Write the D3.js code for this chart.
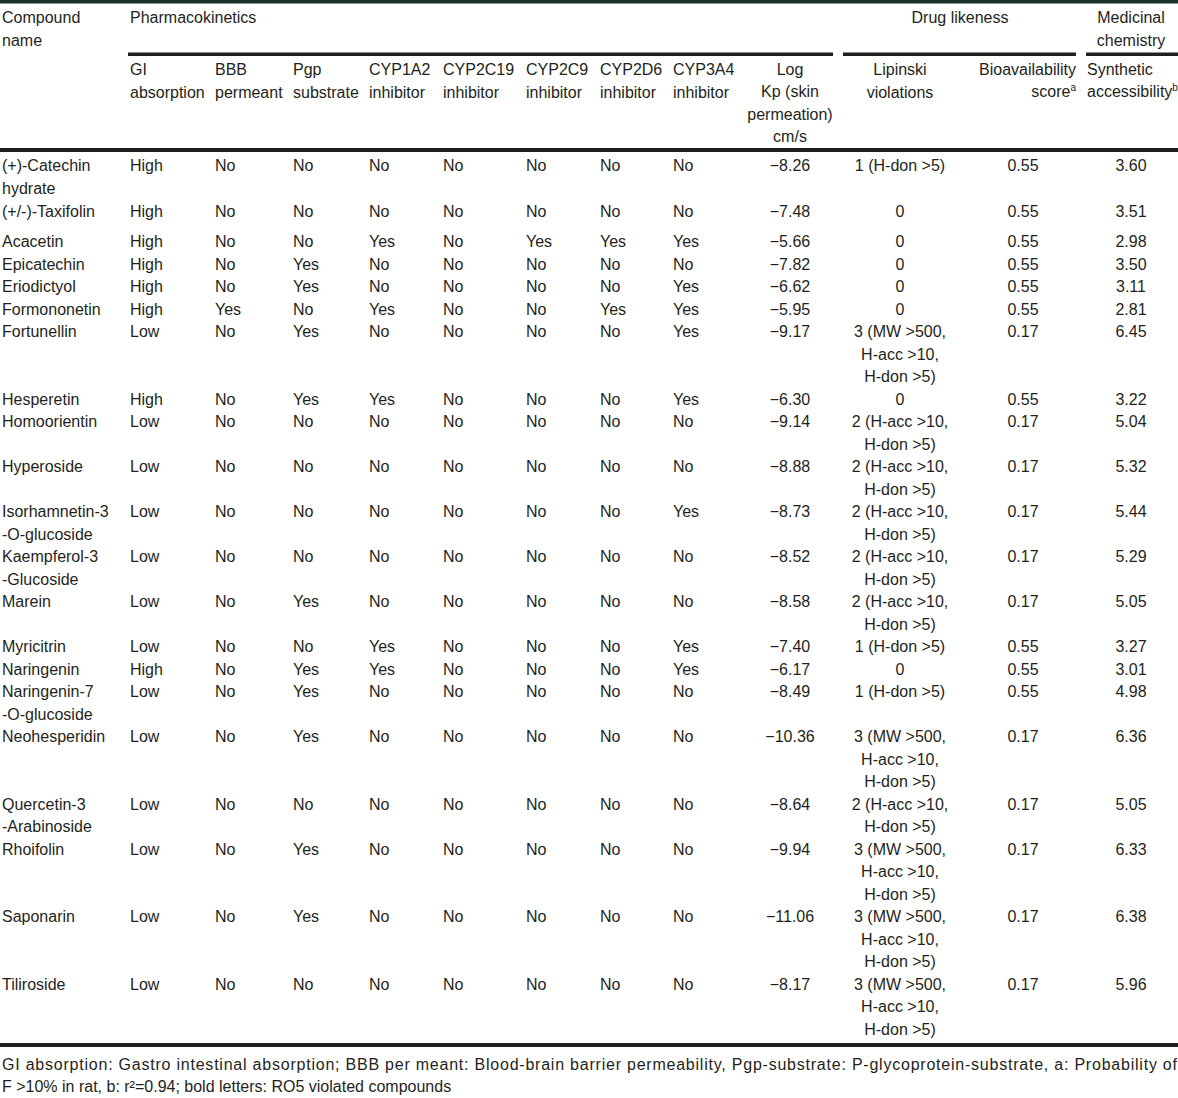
<!DOCTYPE html>
<html>
<head>
<meta charset="utf-8">
<script src="https://cdn.jsdelivr.net/npm/d3@7"></script>
<style>
  html, body { margin: 0; padding: 0; background: #fff; }
  svg { display: block; }
  text { font-family: "Liberation Sans", Arial, sans-serif; font-size: 16px; fill: #231f20; }
</style>
</head>
<body>
<svg id="chart" width="1178" height="1098"></svg>
<script>
// ---------- DATA ----------
const compounds = [
  ["(+)-Catechin", "hydrate"], ["(+/-)-Taxifolin"], ["Acacetin"], ["Epicatechin"], ["Eriodictyol"],
  ["Formononetin"], ["Fortunellin"], ["Hesperetin"], ["Homoorientin"], ["Hyperoside"],
  ["Isorhamnetin-3", "-O-glucoside"], ["Kaempferol-3", "-Glucoside"], ["Marein"], ["Myricitrin"],
  ["Naringenin"], ["Naringenin-7", "-O-glucoside"], ["Neohesperidin"], ["Quercetin-3", "-Arabinoside"],
  ["Rhoifolin"], ["Saponarin"], ["Tiliroside"]
];
const giAbsorption = ["High","High","High","High","High","High","Low","High","Low","Low","Low","Low","Low","Low","High","Low","Low","Low","Low","Low","Low"];
const bbbPermeant  = ["No","No","No","No","No","Yes","No","No","No","No","No","No","No","No","No","No","No","No","No","No","No"];
const pgpSubstrate = ["No","No","No","Yes","Yes","No","Yes","Yes","No","No","No","No","Yes","No","Yes","Yes","Yes","No","Yes","Yes","No"];
const cyp1a2  = ["No","No","Yes","No","No","Yes","No","Yes","No","No","No","No","No","Yes","Yes","No","No","No","No","No","No"];
const cyp2c19 = ["No","No","No","No","No","No","No","No","No","No","No","No","No","No","No","No","No","No","No","No","No"];
const cyp2c9  = ["No","No","Yes","No","No","No","No","No","No","No","No","No","No","No","No","No","No","No","No","No","No"];
const cyp2d6  = ["No","No","Yes","No","No","Yes","No","No","No","No","No","No","No","No","No","No","No","No","No","No","No"];
const cyp3a4  = ["No","No","Yes","No","Yes","Yes","Yes","Yes","No","No","Yes","No","No","Yes","Yes","No","No","No","No","No","No"];
const logKp   = [-8.26,-7.48,-5.66,-7.82,-6.62,-5.95,-9.17,-6.30,-9.14,-8.88,-8.73,-8.52,-8.58,-7.40,-6.17,-8.49,-10.36,-8.64,-9.94,-11.06,-8.17];
const lipinskiViolations = [
  ["1 (H-don >5)"], ["0"], ["0"], ["0"], ["0"], ["0"],
  ["3 (MW >500,", "H-acc >10,", "H-don >5)"], ["0"],
  ["2 (H-acc >10,", "H-don >5)"], ["2 (H-acc >10,", "H-don >5)"], ["2 (H-acc >10,", "H-don >5)"],
  ["2 (H-acc >10,", "H-don >5)"], ["2 (H-acc >10,", "H-don >5)"], ["1 (H-don >5)"], ["0"], ["1 (H-don >5)"],
  ["3 (MW >500,", "H-acc >10,", "H-don >5)"], ["2 (H-acc >10,", "H-don >5)"],
  ["3 (MW >500,", "H-acc >10,", "H-don >5)"], ["3 (MW >500,", "H-acc >10,", "H-don >5)"],
  ["3 (MW >500,", "H-acc >10,", "H-don >5)"]
];
const bioavailability = [0.55,0.55,0.55,0.55,0.55,0.55,0.17,0.55,0.17,0.17,0.17,0.17,0.17,0.55,0.55,0.55,0.17,0.17,0.17,0.17,0.17];
const syntheticAccessibility = [3.60,3.51,2.98,3.50,3.11,2.81,6.45,3.22,5.04,5.32,5.44,5.29,5.05,3.27,3.01,4.98,6.36,5.05,6.33,6.38,5.96];

const groupHeaders = ["Pharmacokinetics", "Drug likeness", ["Medicinal", "chemistry"]];
const footnote = [
  "GI absorption: Gastro intestinal absorption; BBB per meant: Blood-brain barrier permeability, Pgp-substrate: P-glycoprotein-substrate, a: Probability of",
  "F >10% in rat, b: r\u00B2=0.94; bold letters: RO5 violated compounds"
];

// ---------- LAYOUT ----------
const W = 1178, H = 1098;
const svg = d3.select("#chart");
svg.append("rect").attr("width", W).attr("height", H).attr("fill", "#fff");
const ink = "#231f20";
const BASE = 6; // baseline offset from visual centre

// top border
svg.append("rect").attr("x", 0).attr("y", 0).attr("width", W).attr("height", 3.5).attr("fill", "#1b3329");

// row line positions
const lineH = 22.5;
const rowLines = compounds.map((c, i) => Math.max(c.length, lipinskiViolations[i].length));
const extraGap = compounds.map((c, i) => (i === 1 ? 7.5 : i === 0 ? 1 : 0)); // spacing irregularities
const yLine = d3.scaleLinear().domain([0, 1]).range([165, 165 + lineH]);
let acc = 0, pad = 0;
const rowStart = rowLines.map((n, i) => { const y = yLine(acc) + pad; acc += n; pad += extraGap[i]; return y; });

// columns
const ynCols = [giAbsorption, bbbPermeant, pgpSubstrate, cyp1a2, cyp2c19, cyp2c9, cyp2d6, cyp3a4];
const ynX = [130, 215, 293, 369, 443, 526, 600, 673];
const ynHead = [["GI","absorption"],["BBB","permeant"],["Pgp","substrate"],["CYP1A2","inhibitor"],["CYP2C19","inhibitor"],["CYP2C9","inhibitor"],["CYP2D6","inhibitor"],["CYP3A4","inhibitor"]];
const xLog = 790, xLip = 900, xBio = 1023, xSyn = 1131;

function lines(g, arr, x, y0, anchor, lh) {
  arr.forEach((t, k) => {
    g.append("text").attr("x", x).attr("y", y0 + k * (lh || lineH) + BASE).attr("text-anchor", anchor || "start").text(t);
  });
}

// ---------- HEADER ----------
const hdr = svg.append("g");
lines(hdr, ["Compound", "name"], 2, 17);
lines(hdr, [groupHeaders[0]], 130, 17);
lines(hdr, [groupHeaders[1]], 960, 17, "middle");
lines(hdr, groupHeaders[2], 1131, 17, "middle");

// group rules
[[128, 833], [843, 1076], [1086, 1178]].forEach(([a, b]) => {
  hdr.append("rect").attr("x", a).attr("y", 52.5).attr("width", b - a).attr("height", 3.5).attr("fill", ink);
});

ynHead.forEach((h, j) => lines(hdr, h, ynX[j], 69));
lines(hdr, ["Log", "Kp (skin", "permeation)", "cm/s"], xLog, 69, "middle", 22.4);
lines(hdr, ["Lipinski", "violations"], xLip, 69, "middle");
lines(hdr, ["Bioavailability"], 1076, 69, "end");
{
  const t = hdr.append("text").attr("x", 1076).attr("y", 91 + BASE).attr("text-anchor", "end");
  t.append("tspan").text("score");
  t.append("tspan").attr("font-size", 10).attr("dy", -6).text("a");
}
lines(hdr, ["Synthetic"], 1087, 69);
{
  const t = hdr.append("text").attr("x", 1087).attr("y", 91 + BASE);
  t.append("tspan").text("accessibility");
  t.append("tspan").attr("font-size", 10).attr("dy", -6).text("b");
}

// header bottom rule
svg.append("rect").attr("x", 0).attr("y", 148).attr("width", W).attr("height", 4).attr("fill", ink);

// ---------- BODY ----------
const body = svg.append("g");
const rows = body.selectAll("g.row").data(compounds).join("g").attr("class", "row");
rows.each(function (c, i) {
  const g = d3.select(this);
  const y0 = rowStart[i];
  lines(g, c, 2, y0);
  ynCols.forEach((col, j) => lines(g, [col[i]], ynX[j], y0));
  lines(g, [logKp[i].toFixed(2).replace("-", "\u2212")], xLog, y0, "middle");
  lines(g, lipinskiViolations[i], xLip, y0, "middle");
  lines(g, [bioavailability[i].toFixed(2)], xBio, y0, "middle");
  lines(g, [syntheticAccessibility[i].toFixed(2)], xSyn, y0, "middle");
});

// bottom rule
svg.append("rect").attr("x", 0).attr("y", 1043).attr("width", W).attr("height", 4).attr("fill", ink);

// ---------- FOOTNOTE ----------
svg.append("text").attr("x", 2).attr("y", 1064 + BASE).attr("textLength", 1175).attr("lengthAdjust", "spacing").text(footnote[0]);
svg.append("text").attr("x", 2).attr("y", 1086 + BASE).text(footnote[1]);
</script>
</body>
</html>
